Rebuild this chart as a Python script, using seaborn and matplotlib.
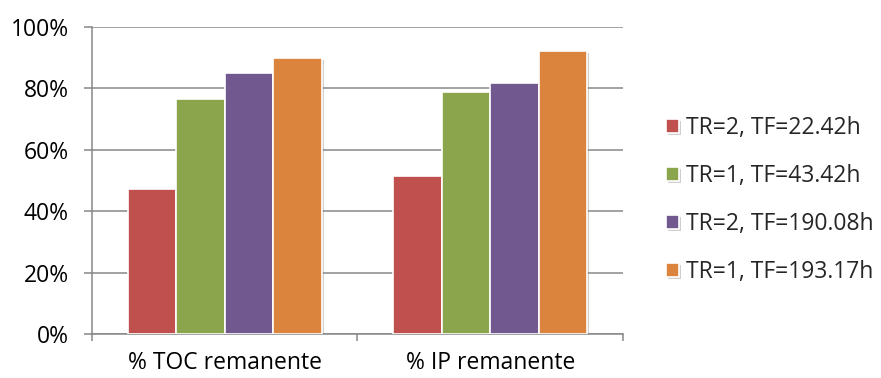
import matplotlib
matplotlib.use("Agg")
import matplotlib.pyplot as plt
import matplotlib.patheffects as pe
from matplotlib.ticker import FuncFormatter, FixedLocator
import seaborn as sns
import pandas as pd

# Data: percentage remaining for each treatment condition
categories = ["% TOC remanente", "% IP remanente"]
series = ["TR=2, TF=22.42h", "TR=1, TF=43.42h", "TR=2, TF=190.08h", "TR=1, TF=193.17h"]
toc_values = [47.2, 76.5, 85.0, 90.0]
ip_values = [51.5, 78.8, 81.8, 92.2]
colors = ["#C0504D", "#8BA54C", "#71588F", "#DB843D"]
y_ticks = [0, 20, 40, 60, 80, 100]

rows = []
for s, t, i in zip(series, toc_values, ip_values):
    rows.append({"categoria": categories[0], "serie": s, "valor": t})
    rows.append({"categoria": categories[1], "serie": s, "valor": i})
df = pd.DataFrame(rows)

sns.set_theme(style="white")
plt.rcParams["font.family"] = ["Open Sans", "DejaVu Sans"]

fig = plt.figure(figsize=(8.81, 3.78), dpi=100)
ax = fig.add_axes([0.1044, 0.1164, 0.6027, 0.8122])

grid_color = "#878787"

sns.barplot(
    data=df, x="categoria", y="valor", hue="serie",
    order=categories, hue_order=series, palette=colors,
    width=0.73, edgecolor="white", linewidth=1.2, saturation=1,
    ax=ax, zorder=3,
)

shadow = [pe.SimplePatchShadow(offset=(1.5, -1.5), shadow_rgbFace="#777777", alpha=0.35), pe.Normal()]
for patch in ax.patches:
    patch.set_path_effects(shadow)

ax.set_ylim(0, 100)
ax.set_xlim(-0.5, 1.5)
ax.yaxis.set_major_locator(FixedLocator(y_ticks))
ax.yaxis.set_major_formatter(FuncFormatter(lambda v, _: f"{v:.0f}%"))
ax.grid(axis="y", color=grid_color, linewidth=1.1, zorder=0)
ax.set_axisbelow(True)

ax.set_xlabel("")
ax.set_ylabel("")

for side in ["top", "right"]:
    ax.spines[side].set_visible(False)
for side in ["left", "bottom"]:
    ax.spines[side].set_color(grid_color)
    ax.spines[side].set_linewidth(1.1)

ax.tick_params(axis="y", which="major", direction="out", length=5.8, width=1.1,
               color=grid_color, labelsize=16.5, labelcolor="black", pad=11, left=True)
ax.tick_params(axis="x", which="major", length=0, labelsize=16.5, labelcolor="black", pad=12)
ax.xaxis.set_minor_locator(FixedLocator([-0.5, 0.5, 1.5]))
ax.tick_params(axis="x", which="minor", direction="out", length=5, width=1.1,
               color=grid_color, bottom=True)

handles, labels = ax.get_legend_handles_labels()
ax.legend(
    handles, labels, loc="center left", bbox_to_anchor=(0.756, 0.47),
    bbox_transform=fig.transFigure, frameon=False, fontsize=16.5,
    handlelength=0.57, handleheight=0.57, handletextpad=0.3,
    labelspacing=1.05, borderpad=0, borderaxespad=0,
)

fig.savefig("out.png", dpi=100)
